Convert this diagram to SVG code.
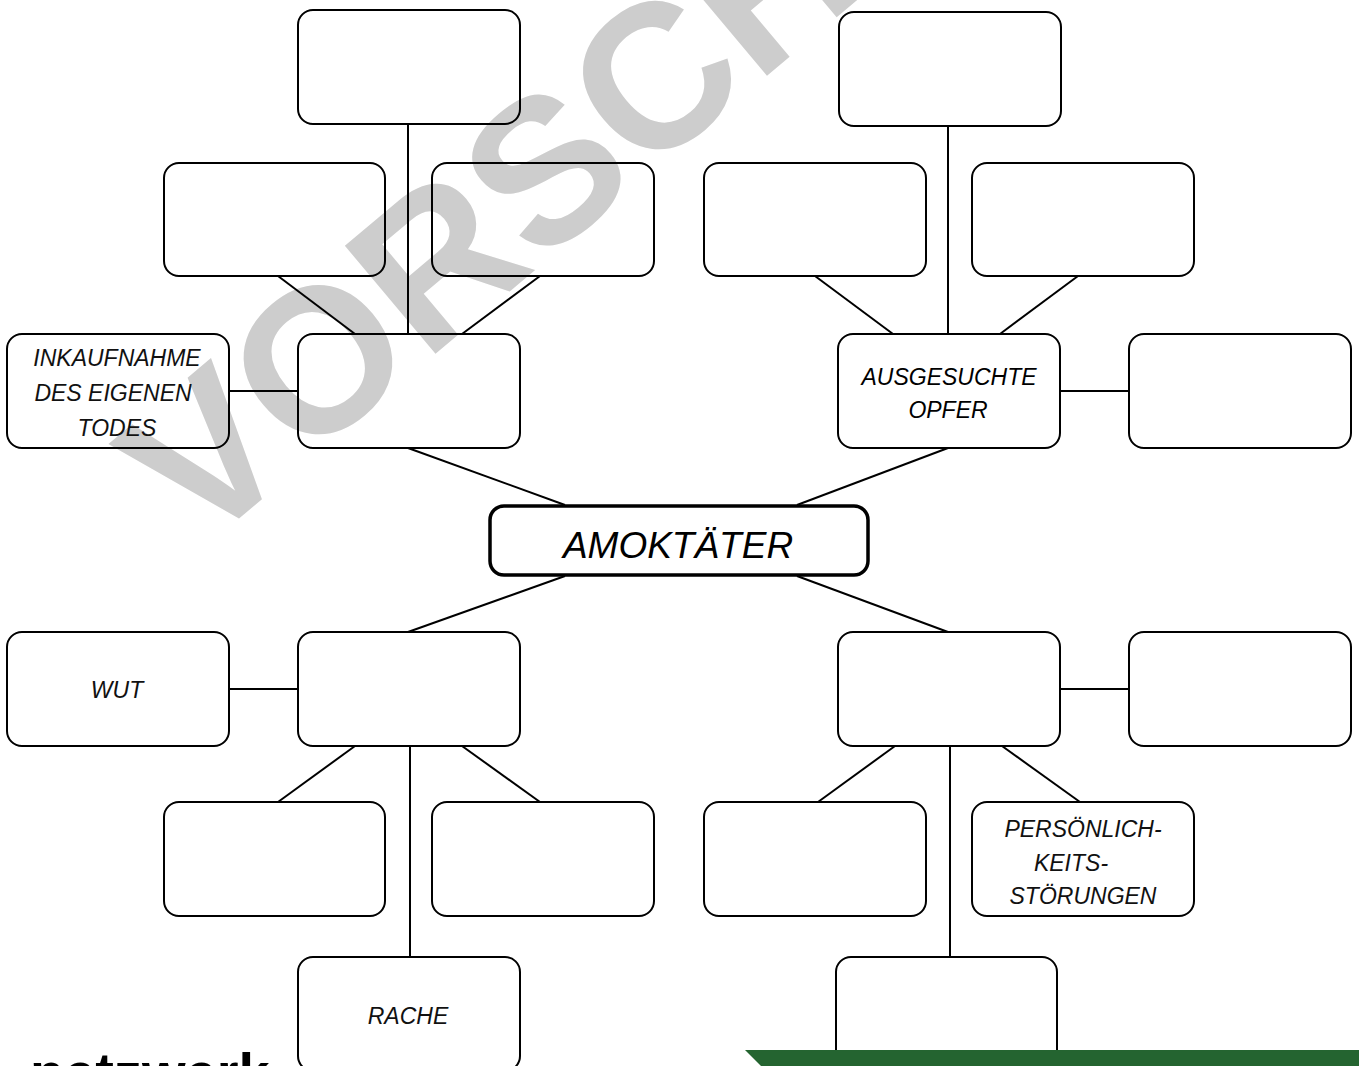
<svg xmlns="http://www.w3.org/2000/svg" width="1359" height="1066" viewBox="0 0 1359 1066">
<style>
.box{fill:none;stroke:#000;stroke-width:2}
.main{fill:none;stroke:#000;stroke-width:3.5}
.ln{stroke:#000;stroke-width:2;fill:none}
.t{font-family:"Liberation Sans",Arial,sans-serif;font-style:italic;font-size:23px;fill:#111;text-anchor:middle}
.tb{font-family:"Liberation Sans",Arial,sans-serif;font-style:italic;font-size:23px;fill:#000;text-anchor:middle}
.big{font-family:"Liberation Sans",Arial,sans-serif;font-style:italic;font-size:37px;fill:#000;text-anchor:middle}
</style>
<rect width="1359" height="1066" fill="#fff"/>
<text x="198" y="553" transform="rotate(-40 198 553)" font-family="Liberation Sans,Arial,sans-serif" font-weight="bold" font-size="205" fill="#cdcdcd">VORSCHAU</text>
<g id="connectors">
<line class="ln" x1="408" y1="124" x2="408" y2="334"/>
<line class="ln" x1="278" y1="276" x2="355" y2="334"/>
<line class="ln" x1="540" y1="276" x2="462" y2="334"/>
<line class="ln" x1="229" y1="391" x2="298" y2="391"/>
<line class="ln" x1="408" y1="448" x2="565" y2="505"/>
<line class="ln" x1="948" y1="126" x2="948" y2="334"/>
<line class="ln" x1="815" y1="276" x2="893" y2="334"/>
<line class="ln" x1="1078" y1="276" x2="1000" y2="334"/>
<line class="ln" x1="1060" y1="391" x2="1129" y2="391"/>
<line class="ln" x1="948" y1="448" x2="797" y2="505"/>
<line class="ln" x1="565" y1="576" x2="408" y2="632"/>
<line class="ln" x1="229" y1="689" x2="298" y2="689"/>
<line class="ln" x1="355" y1="746" x2="278" y2="802"/>
<line class="ln" x1="462" y1="746" x2="540" y2="802"/>
<line class="ln" x1="410" y1="746" x2="410" y2="957"/>
<line class="ln" x1="797" y1="576" x2="948" y2="632"/>
<line class="ln" x1="1060" y1="689" x2="1129" y2="689"/>
<line class="ln" x1="895" y1="746" x2="818" y2="802"/>
<line class="ln" x1="1002" y1="746" x2="1080" y2="802"/>
<line class="ln" x1="950" y1="746" x2="950" y2="957"/>
</g>
<g id="n-a"><rect class="box" x="298" y="10" width="222" height="114" rx="15"/></g>
<g id="n-b"><rect class="box" x="164" y="163" width="221" height="113" rx="15"/></g>
<g id="n-c"><rect class="box" x="432" y="163" width="222" height="113" rx="15"/></g>
<g id="n-d"><rect class="box" x="298" y="334" width="222" height="114" rx="15"/></g>
<g id="n-inkauf"><rect class="box" x="7" y="334" width="222" height="114" rx="15"/>
<text class="t" x="117" y="366">INKAUFNAHME</text><text class="t" x="113" y="401">DES EIGENEN</text><text class="t" x="117" y="436">TODES</text></g>
<g id="n-e"><rect class="box" x="839" y="12" width="222" height="114" rx="15"/></g>
<g id="n-f"><rect class="box" x="704" y="163" width="222" height="113" rx="15"/></g>
<g id="n-g"><rect class="box" x="972" y="163" width="222" height="113" rx="15"/></g>
<g id="n-opfer"><rect class="box" x="838" y="334" width="222" height="114" rx="15"/>
<text class="tb" x="949" y="385">AUSGESUCHTE</text><text class="tb" x="948" y="418">OPFER</text></g>
<g id="n-i"><rect class="box" x="1129" y="334" width="222" height="114" rx="15"/></g>
<g id="n-amok"><rect class="main" x="490" y="506" width="378" height="69" rx="14"/>
<text class="big" x="678" y="558">AMOKTÄTER</text></g>
<g id="n-wut"><rect class="box" x="7" y="632" width="222" height="114" rx="15"/>
<text class="t" x="117" y="698">WUT</text></g>
<g id="n-j"><rect class="box" x="298" y="632" width="222" height="114" rx="15"/></g>
<g id="n-k"><rect class="box" x="164" y="802" width="221" height="114" rx="15"/></g>
<g id="n-l"><rect class="box" x="432" y="802" width="222" height="114" rx="15"/></g>
<g id="n-rache"><rect class="box" x="298" y="957" width="222" height="114" rx="15"/>
<text class="t" x="408" y="1024">RACHE</text></g>
<g id="n-m"><rect class="box" x="838" y="632" width="222" height="114" rx="15"/></g>
<g id="n-n"><rect class="box" x="1129" y="632" width="222" height="114" rx="15"/></g>
<g id="n-o"><rect class="box" x="704" y="802" width="222" height="114" rx="15"/></g>
<g id="n-pers"><rect class="box" x="972" y="802" width="222" height="114" rx="15"/>
<text class="t" x="1083" y="837">PERSÖNLICH-</text><text class="t" x="1071" y="871">KEITS-</text><text class="t" x="1083" y="904">STÖRUNGEN</text></g>
<g id="n-q"><rect class="box" x="836" y="957" width="221" height="114" rx="15"/></g>
<text x="30" y="1092" font-family="Liberation Sans,Arial,sans-serif" font-weight="bold" font-size="56" fill="#000">netzwerk</text>
<polygon points="745,1050 1359,1050 1359,1066 761,1066" fill="#246430"/>
</svg>
